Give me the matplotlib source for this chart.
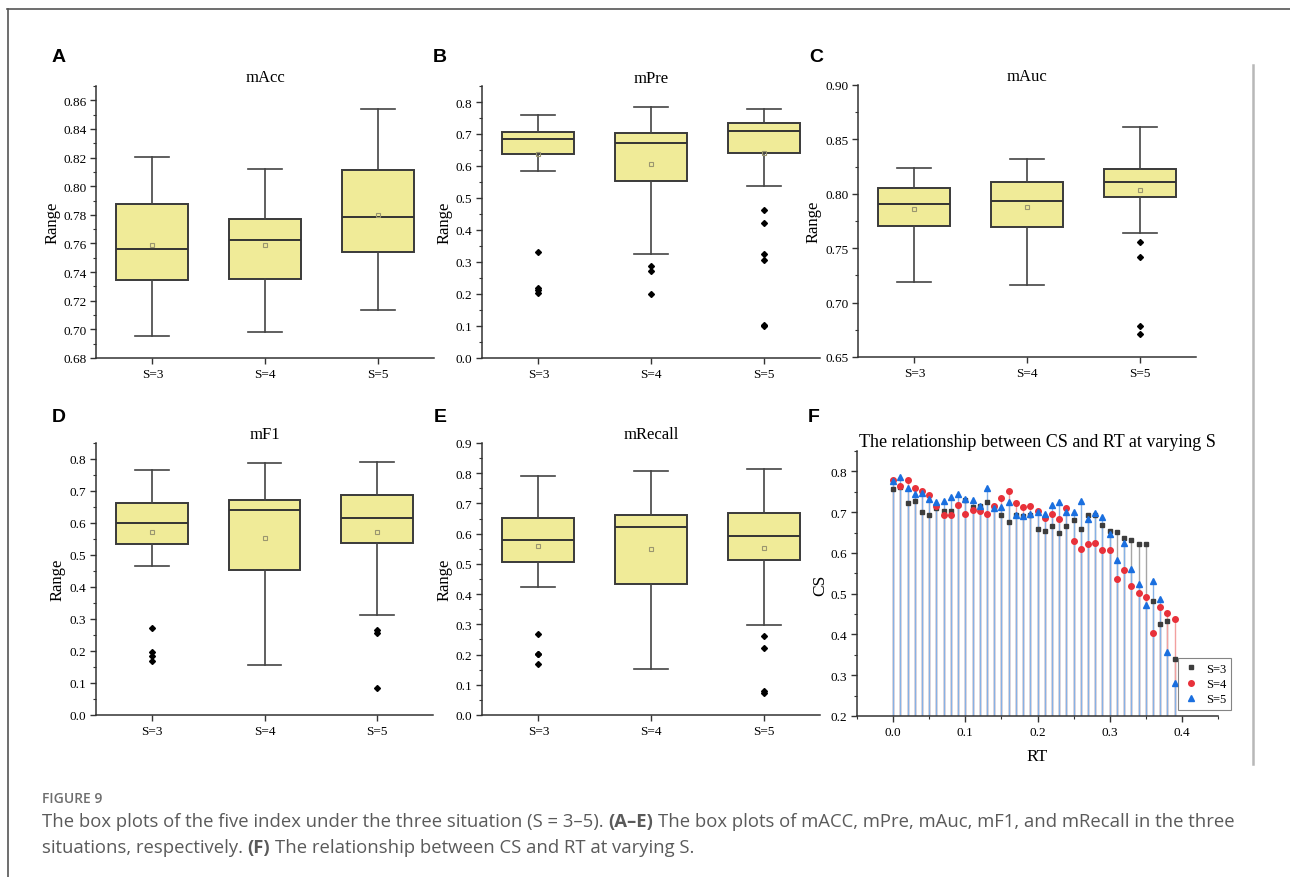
import matplotlib
matplotlib.use('Agg')
import matplotlib.pyplot as plt
from matplotlib.lines import Line2D
from matplotlib.ticker import MultipleLocator, AutoMinorLocator, FormatStrFormatter

plt.rcParams['font.family'] = ['Liberation Serif', 'DejaVu Serif']

groups = ['S=3', 'S=4', 'S=5']

# per group: whisker low, q1, median, q3, whisker high, mean
acc_stats = [[0.6954, 0.7346, 0.7558, 0.7877, 0.8204, 0.7586],
             [0.6980, 0.7355, 0.7623, 0.7770, 0.8122, 0.7590],
             [0.7134, 0.7540, 0.7785, 0.8113, 0.8537, 0.7796]]
acc_fliers = [[], [], []]

pre_stats = [[0.585, 0.6375, 0.685, 0.705, 0.759, 0.637],
             [0.325, 0.552, 0.672, 0.704, 0.783, 0.607],
             [0.5375, 0.640, 0.709, 0.735, 0.779, 0.640]]
pre_fliers = [[0.332, 0.218, 0.212, 0.202],
              [0.288, 0.272, 0.199],
              [0.461, 0.423, 0.324, 0.305, 0.103, 0.099]]

auc_stats = [[0.7191, 0.7701, 0.7903, 0.8053, 0.8239, 0.7860],
             [0.7163, 0.7692, 0.7930, 0.8111, 0.8318, 0.7881],
             [0.7643, 0.7967, 0.8105, 0.8230, 0.8618, 0.8034]]
auc_fliers = [[], [], [0.7554, 0.7417, 0.6784, 0.6708]]

f1_stats = [[0.4641, 0.5340, 0.6008, 0.6613, 0.7666, 0.5716],
            [0.1575, 0.4516, 0.6394, 0.6727, 0.7885, 0.5538],
            [0.3140, 0.5372, 0.6154, 0.6863, 0.7906, 0.5705]]
f1_fliers = [[0.2712, 0.197, 0.1846, 0.169], [], [0.266, 0.2576, 0.0855]]

recall_stats = [[0.4246, 0.5051, 0.5801, 0.6507, 0.7908, 0.5592],
                [0.1533, 0.4346, 0.6220, 0.6629, 0.8063, 0.5482],
                [0.2978, 0.5129, 0.5912, 0.6673, 0.8129, 0.5537]]
recall_fliers = [[0.2669, 0.2029, 0.2007, 0.1676], [], [0.2603, 0.2228, 0.0805, 0.0728]]

rt = [0.00, 0.01, 0.02, 0.03, 0.04, 0.05, 0.06, 0.07, 0.08, 0.09,
      0.10, 0.11, 0.12, 0.13, 0.14, 0.15, 0.16, 0.17, 0.18, 0.19,
      0.20, 0.21, 0.22, 0.23, 0.24, 0.25, 0.26, 0.27, 0.28, 0.29,
      0.30, 0.31, 0.32, 0.33, 0.34, 0.35, 0.36, 0.37, 0.38, 0.39]
cs_s3 = [0.758, 0.761, 0.722, 0.727, 0.700, 0.693, 0.711, 0.703, 0.703, 0.718,
         0.729, 0.712, 0.715, 0.725, 0.712, 0.693, 0.675, 0.692, 0.691, 0.694,
         0.658, 0.653, 0.667, 0.650, 0.665, 0.680, 0.659, 0.694, 0.694, 0.669,
         0.654, 0.652, 0.636, 0.632, 0.621, 0.621, 0.482, 0.426, 0.434, 0.341]
cs_s4 = [0.779, 0.763, 0.780, 0.760, 0.753, 0.742, 0.714, 0.694, 0.694, 0.718,
         0.696, 0.705, 0.702, 0.696, 0.716, 0.734, 0.751, 0.722, 0.713, 0.715,
         0.702, 0.686, 0.695, 0.683, 0.710, 0.630, 0.609, 0.623, 0.625, 0.606,
         0.608, 0.536, 0.558, 0.518, 0.502, 0.492, 0.404, 0.467, 0.452, 0.437]
cs_s5 = [0.777, 0.787, 0.759, 0.745, 0.747, 0.733, 0.724, 0.727, 0.736, 0.745,
         0.732, 0.731, 0.715, 0.760, 0.711, 0.712, 0.725, 0.692, 0.691, 0.695,
         0.700, 0.696, 0.717, 0.726, 0.701, 0.701, 0.728, 0.684, 0.699, 0.687,
         0.647, 0.583, 0.624, 0.561, 0.523, 0.473, 0.530, 0.486, 0.357, 0.282]

W, H = 1290, 878
fig = plt.figure(figsize=(W / 100, H / 100), dpi=100)


def fx(x):
    return x / W


def fy(y):
    return 1 - y / H


def axes_px(left, top, right, bottom):
    return fig.add_axes([fx(left), fy(bottom), (right - left) / W, (bottom - top) / H])


def style_axes(ax):
    for side in ['top', 'right']:
        ax.spines[side].set_visible(False)
    for side in ['left', 'bottom']:
        ax.spines[side].set_color('#333333')
        ax.spines[side].set_linewidth(1.1)
    ax.tick_params(which='major', direction='out', length=4, width=1, color='#333333',
                   labelsize=9.5, pad=3)
    ax.tick_params(which='minor', direction='out', length=2.5, width=0.8, color='#333333')
    ax.tick_params(axis='x', which='minor', bottom=False)


box_panels = [
    ('A', 'mAcc', acc_stats, acc_fliers, (96, 87, 434, 359), (0.68, 0.87), 0.02, '%.2f', 53, (59, 57), 78),
    ('B', 'mPre', pre_stats, pre_fliers, (482, 87, 820, 359), (0.0, 0.85), 0.1, '%.1f', 445, (440, 57), 79),
    ('C', 'mAuc', auc_stats, auc_fliers, (858, 86, 1196, 358), (0.65, 0.90), 0.05, '%.2f', 814, (816, 57), 77),
    ('D', 'mF1', f1_stats, f1_fliers, (96, 444, 433, 716), (0.0, 0.85), 0.1, '%.1f', 58, (59, 418), 435),
    ('E', 'mRecall', recall_stats, recall_fliers, (482, 444, 820, 716), (0.0, 0.9), 0.1, '%.1f', 445, (440, 418), 435),
]

for letter, title, stats, fliers, box, ylim, step, fmt, ylab_x, letter_xy, title_y in box_panels:
    ax = axes_px(*box)
    bstats = []
    for g, s, fl in zip(groups, stats, fliers):
        bstats.append(dict(whislo=s[0], q1=s[1], med=s[2], q3=s[3], whishi=s[4],
                           mean=s[5], fliers=fl, label=g))
    ax.bxp(bstats, positions=[1, 2, 3], widths=0.64, capwidths=0.3,
           patch_artist=True, showmeans=True,
           boxprops=dict(facecolor='#f0eb98', edgecolor='#3a3a3a', linewidth=1.4),
           medianprops=dict(color='#333333', linewidth=1.4),
           whiskerprops=dict(color='#444444', linewidth=1.2),
           capprops=dict(color='#444444', linewidth=1.2),
           meanprops=dict(marker='s', markersize=3.5, markerfacecolor='none',
                          markeredgecolor='#9a9670', markeredgewidth=0.8),
           flierprops=dict(marker='D', markersize=3, markerfacecolor='black',
                           markeredgecolor='black'))
    ax.set_xlim(0.5, 3.5)
    ax.set_ylim(*ylim)
    ax.yaxis.set_major_locator(MultipleLocator(step))
    ax.yaxis.set_minor_locator(AutoMinorLocator(2))
    ax.yaxis.set_major_formatter(FormatStrFormatter(fmt))
    style_axes(ax)

    cx = (box[0] + box[2]) / 2
    cy = (box[1] + box[3]) / 2
    fig.text(fx(cx), fy(title_y), title, fontsize=12, ha='center', va='center')
    fig.text(fx(ylab_x), fy(cy), 'Range', fontsize=12, rotation=90, ha='center', va='center')
    fig.text(fx(letter_xy[0]), fy(letter_xy[1]), letter, fontsize=14, fontweight='bold',
             family=['Liberation Sans', 'DejaVu Sans'], ha='center', va='center')

# CS versus RT with drop lines for each S
axf = axes_px(857, 452, 1218, 717)
axf.vlines(rt, 0.2, cs_s3, colors='#a6a6a6', linewidth=1)
axf.vlines(rt, 0.2, cs_s4, colors='#f2a0a0', linewidth=1)
axf.vlines(rt, 0.2, cs_s5, colors='#86b2e6', linewidth=1)
axf.plot(rt, cs_s3, 's', color='#3d3d3d', markersize=3.5, label='S=3')
axf.plot(rt, cs_s4, 'o', color='#e8313a', markersize=4, label='S=4')
axf.plot(rt, cs_s5, '^', color='#1a6fdf', markersize=4.5, label='S=5')
axf.set_xlim(-0.05, 0.45)
axf.set_ylim(0.2, 0.85)
axf.xaxis.set_major_locator(MultipleLocator(0.1))
axf.xaxis.set_minor_locator(MultipleLocator(0.05))
axf.yaxis.set_major_locator(MultipleLocator(0.1))
axf.yaxis.set_minor_locator(AutoMinorLocator(2))
axf.xaxis.set_major_formatter(FormatStrFormatter('%.1f'))
axf.yaxis.set_major_formatter(FormatStrFormatter('%.1f'))
style_axes(axf)
axf.tick_params(axis='x', which='minor', bottom=True)
leg = axf.legend(loc='lower right', bbox_to_anchor=(fx(1231), fy(711)),
                 bbox_transform=fig.transFigure, fontsize=9, frameon=True,
                 fancybox=False, edgecolor='#666666', borderpad=0.4,
                 handletextpad=0.6, handlelength=1.2, labelspacing=0.25,
                 borderaxespad=0)
leg.get_frame().set_linewidth(0.8)

fig.text(fx(1037), fy(443), 'The relationship between CS and RT at varying S',
         fontsize=13, ha='center', va='center')
fig.text(fx(820), fy(585), 'CS', fontsize=12.5, rotation=90, ha='center', va='center')
fig.text(fx(1037), fy(757), 'RT', fontsize=12.5, ha='center', va='center')
fig.text(fx(814), fy(418), 'F', fontsize=14, fontweight='bold',
         family=['Liberation Sans', 'DejaVu Sans'], ha='center', va='center')

# frame and separator lines
fig.add_artist(Line2D([fx(7), fx(W)], [fy(10), fy(10)], transform=fig.transFigure,
                      color='#555555', linewidth=1.2))
fig.add_artist(Line2D([fx(8), fx(8)], [fy(10), fy(H)], transform=fig.transFigure,
                      color='#555555', linewidth=1.2))
fig.add_artist(Line2D([fx(1253), fx(1253)], [fy(66), fy(765)], transform=fig.transFigure,
                      color='#b8b8b8', linewidth=1.8))

# caption
cap_font = ['Open Sans', 'DejaVu Sans']
cap_size = 13.3
fig.text(fx(42), fy(803), 'FIGURE 9', fontsize=10, fontweight='semibold',
         family=cap_font, color='#6e6e6e', va='baseline')

renderer = fig.canvas.get_renderer()


def text_width(s, bold=False):
    t = fig.text(0, 0, s, fontsize=cap_size, family=cap_font,
                 fontweight='bold' if bold else 'normal')
    w = t.get_window_extent(renderer).width
    t.remove()
    return w


space_w = text_width('a a') - text_width('aa')


def caption_line(pieces, x, y):
    for txt, bold in pieces:
        fig.text(fx(x), fy(y), txt, fontsize=cap_size, family=cap_font, color='#5a5a5a',
                 fontweight='bold' if bold else 'normal', va='baseline')
        x += text_width(txt, bold) + space_w


caption_line([('The box plots of the five index under the three situation (S = 3\u20135).', False),
              ('(A\u2013E)', True),
              ('The box plots of mACC, mPre, mAuc, mF1, and mRecall in the three', False)],
             42, 827)
caption_line([('situations, respectively.', False),
              ('(F)', True),
              ('The relationship between CS and RT at varying S.', False)],
             42, 853)

fig.savefig('out.png', dpi=100)
